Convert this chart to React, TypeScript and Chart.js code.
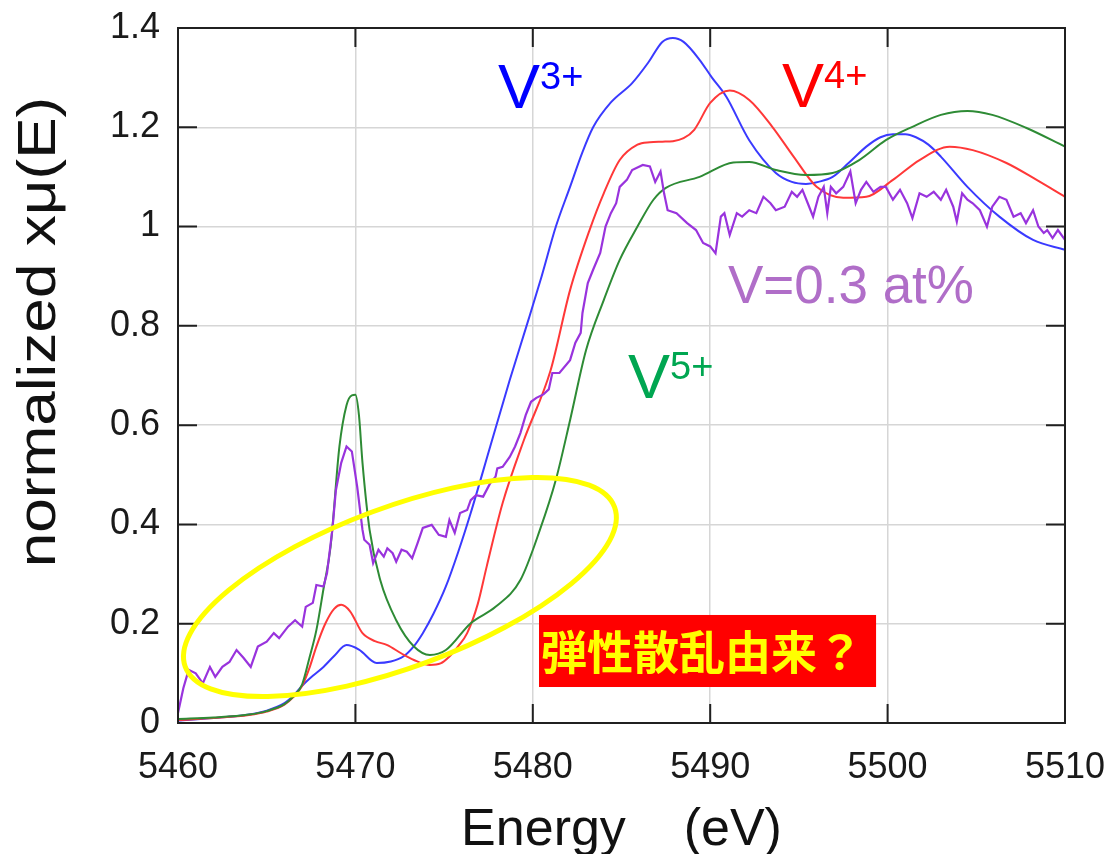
import { useEffect, useRef } from "react";
import { Chart, registerables } from "chart.js";

Chart.register(...registerables);

// ---- spectra: energy (eV) and normalized absorption ----
const energyV3 = [5460, 5462, 5464, 5465, 5466, 5466.5, 5467, 5467.6, 5468.2, 5468.8, 5469.5, 5470.2, 5471.2, 5472.0, 5472.7, 5473.3, 5473.8, 5474.4, 5475.1, 5475.8, 5476.5, 5477.6, 5478.7, 5479.7, 5480.5, 5481.3, 5482.1, 5482.8, 5483.4, 5484.4, 5485.6, 5486.5, 5487.3, 5487.9, 5488.5, 5489.4, 5490.1, 5490.9, 5492.2, 5493.7, 5494.6, 5495.4, 5496.1, 5496.9, 5497.8, 5498.8, 5499.6, 5500.3, 5501.0, 5501.6, 5502.3, 5503.0, 5504.5, 5506.3, 5508.2, 5510];
const muV3 = [0.005, 0.01, 0.017, 0.025, 0.04, 0.055, 0.075, 0.095, 0.113, 0.135, 0.157, 0.148, 0.121, 0.124, 0.134, 0.155, 0.181, 0.22, 0.275, 0.345, 0.423, 0.557, 0.691, 0.806, 0.9, 1.0, 1.08, 1.15, 1.2, 1.25, 1.289, 1.33, 1.372, 1.38, 1.372, 1.336, 1.3, 1.262, 1.174, 1.108, 1.09, 1.086, 1.09, 1.1, 1.128, 1.161, 1.18, 1.186, 1.186, 1.18, 1.165, 1.141, 1.08, 1.02, 0.973, 0.953];

const energyV4 = [5460, 5462, 5464, 5465, 5466, 5466.5, 5467, 5467.4, 5467.8, 5468.3, 5468.8, 5469.2, 5469.7, 5470.4, 5471.1, 5471.8, 5472.6, 5473.3, 5474.2, 5474.8, 5475.3, 5475.8, 5476.3, 5476.9, 5477.4, 5478.3, 5479.5, 5481.0, 5482.1, 5483.2, 5484.0, 5484.9, 5485.9, 5486.6, 5487.3, 5487.9, 5488.5, 5489.1, 5490.0, 5491.1, 5492.2, 5493.5, 5494.7, 5496.0, 5497.5, 5498.8, 5500.3, 5501.8, 5503.5, 5504.8, 5506.7, 5508.4, 5510];
const muV4 = [0.006, 0.01, 0.016, 0.023, 0.037, 0.052, 0.075, 0.11, 0.154, 0.2, 0.23, 0.238, 0.225, 0.181, 0.165, 0.157, 0.14, 0.127, 0.117, 0.12, 0.134, 0.155, 0.181, 0.24, 0.315, 0.443, 0.57, 0.71, 0.872, 0.993, 1.067, 1.134, 1.165, 1.17, 1.171, 1.172, 1.178, 1.195, 1.249, 1.274, 1.255, 1.201, 1.141, 1.08, 1.058, 1.06, 1.094, 1.134, 1.161, 1.154, 1.128, 1.094, 1.06];

const energyV5 = [5460, 5462, 5464, 5465, 5466, 5466.5, 5467, 5467.4, 5467.8, 5468.2, 5468.6, 5469.1, 5469.5, 5469.8, 5470.0, 5470.2, 5470.4, 5470.8, 5471.4, 5472.3, 5473.3, 5474.2, 5475.1, 5476.5, 5477.9, 5479.3, 5480.4, 5481.3, 5482.1, 5483.0, 5484.0, 5484.9, 5485.9, 5486.8, 5487.5, 5489.4, 5491.3, 5492.2, 5493.7, 5495.4, 5496.9, 5498.4, 5499.9, 5501.4, 5503.0, 5504.5, 5505.9, 5507.8, 5510];
const muV5 = [0.008, 0.011, 0.017, 0.024, 0.038, 0.053, 0.078, 0.13, 0.187, 0.27, 0.355, 0.557, 0.64, 0.66, 0.661, 0.62, 0.524, 0.389, 0.288, 0.207, 0.154, 0.137, 0.147, 0.201, 0.234, 0.288, 0.389, 0.49, 0.61, 0.751, 0.852, 0.933, 1.0, 1.054, 1.078, 1.1, 1.129, 1.13, 1.114, 1.104, 1.108, 1.134, 1.174, 1.201, 1.225, 1.233, 1.225, 1.199, 1.161];

const energySample = [5460.0, 5460.3, 5460.6, 5461.0, 5461.4, 5461.8, 5462.1, 5462.5, 5462.9, 5463.3, 5463.7, 5464.1, 5464.5, 5465.0, 5465.4, 5465.7, 5466.2, 5466.6, 5467.0, 5467.2, 5467.6, 5467.8, 5468.2, 5468.4, 5468.7, 5468.9, 5469.2, 5469.5, 5469.8, 5470.1, 5470.4, 5470.5, 5470.8, 5471.0, 5471.3, 5471.6, 5471.8, 5472.1, 5472.3, 5472.6, 5472.9, 5473.2, 5473.5, 5473.8, 5474.3, 5474.7, 5475.1, 5475.3, 5475.6, 5475.9, 5476.3, 5476.5, 5476.8, 5477.2, 5477.6, 5477.9, 5478.0, 5478.3, 5478.7, 5479.0, 5479.3, 5479.6, 5479.9, 5480.2, 5480.6, 5480.9, 5481.1, 5481.5, 5482.1, 5482.4, 5482.7, 5482.8, 5483.1, 5483.4, 5483.8, 5484.1, 5484.4, 5484.7, 5484.9, 5485.3, 5485.6, 5486.2, 5486.6, 5486.9, 5487.2, 5487.4, 5487.6, 5488.1, 5488.7, 5489.2, 5489.6, 5490.0, 5490.3, 5490.6, 5490.8, 5491.1, 5491.5, 5491.8, 5492.2, 5492.6, 5493.0, 5493.4, 5493.7, 5494.2, 5494.6, 5494.9, 5495.2, 5495.5, 5495.8, 5496.1, 5496.4, 5496.6, 5496.8, 5497.1, 5497.5, 5497.9, 5498.2, 5498.5, 5498.8, 5499.2, 5499.6, 5499.9, 5500.3, 5500.7, 5501.1, 5501.4, 5501.8, 5502.2, 5502.6, 5503.0, 5503.3, 5503.7, 5503.9, 5504.2, 5504.5, 5504.8, 5505.2, 5505.6, 5505.9, 5506.3, 5506.7, 5507.1, 5507.5, 5507.8, 5508.2, 5508.5, 5508.8, 5509.0, 5509.3, 5509.6, 5510.0];
const muSample = [0.02, 0.07, 0.107, 0.1, 0.08, 0.113, 0.093, 0.113, 0.123, 0.147, 0.131, 0.113, 0.154, 0.164, 0.181, 0.171, 0.194, 0.207, 0.194, 0.234, 0.242, 0.278, 0.275, 0.302, 0.389, 0.469, 0.524, 0.557, 0.547, 0.476, 0.389, 0.369, 0.359, 0.322, 0.349, 0.335, 0.352, 0.342, 0.325, 0.349, 0.345, 0.332, 0.362, 0.393, 0.399, 0.379, 0.375, 0.409, 0.383, 0.423, 0.429, 0.449, 0.459, 0.456, 0.483, 0.496, 0.513, 0.516, 0.536, 0.557, 0.584, 0.62, 0.647, 0.655, 0.662, 0.672, 0.705, 0.705, 0.731, 0.766, 0.786, 0.826, 0.886, 0.913, 0.947, 1.0, 1.027, 1.047, 1.08, 1.094, 1.114, 1.124, 1.121, 1.09, 1.111, 1.067, 1.033, 1.027, 1.007, 0.993, 0.967, 0.96, 0.946, 1.02, 1.027, 0.983, 1.027, 1.02, 1.033, 1.027, 1.06, 1.047, 1.033, 1.04, 1.07, 1.06, 1.074, 1.047, 1.02, 1.06, 1.08, 1.027, 1.08, 1.067, 1.08, 1.111, 1.047, 1.074, 1.09, 1.07, 1.08, 1.08, 1.054, 1.074, 1.047, 1.017, 1.067, 1.06, 1.07, 1.054, 1.074, 1.04, 1.01, 1.067, 1.054, 1.047, 1.033, 1.0, 1.04, 1.06, 1.054, 1.02, 1.027, 1.007, 1.033, 1.0, 0.987, 0.993, 0.977, 0.993, 0.973];

// ---- axes ----
const xTicks = [5460, 5470, 5480, 5490, 5500, 5510];
const yTicks = [0, 0.2, 0.4, 0.6, 0.8, 1.0, 1.2, 1.4];

const AXIS_FONT = "'Liberation Sans', Arial, sans-serif";
const CJK_FONT = "'Noto Sans CJK JP', 'Noto Sans CJK SC', sans-serif";

const toPoints = (xs: number[], ys: number[]) => xs.map((x, i) => ({ x, y: ys[i] }));

// white page behind the plot
const background = {
  id: "background",
  beforeDraw(chart: any) {
    const { ctx } = chart;
    ctx.save();
    ctx.fillStyle = "#ffffff";
    ctx.fillRect(0, 0, chart.width, chart.height);
    ctx.restore();
  },
};

// closed frame with inward tick marks on all four sides
const frame = {
  id: "frame",
  afterDatasetsDraw(chart: any) {
    const { ctx, chartArea } = chart;
    const { left, right, top, bottom } = chartArea;
    const xs = chart.scales.x;
    const ys = chart.scales.y;
    const len = 19;
    ctx.save();
    ctx.strokeStyle = "#202020";
    ctx.lineWidth = 2;
    ctx.beginPath();
    xTicks.forEach((v) => {
      const px = xs.getPixelForValue(v);
      ctx.moveTo(px, bottom);
      ctx.lineTo(px, bottom - len);
      ctx.moveTo(px, top);
      ctx.lineTo(px, top + len);
    });
    yTicks.forEach((v) => {
      const py = ys.getPixelForValue(v);
      ctx.moveTo(left, py);
      ctx.lineTo(left + len, py);
      ctx.moveTo(right, py);
      ctx.lineTo(right - len, py);
    });
    ctx.stroke();
    ctx.strokeRect(left, top, right - left, bottom - top);
    ctx.restore();
  },
};

// axis titles, oxidation-state labels and the highlighted pre-edge region
const notes = {
  id: "notes",
  afterDraw(chart: any) {
    const { ctx, chartArea } = chart;
    const xs = chart.scales.x;
    const ys = chart.scales.y;
    const px = (e: number) => xs.getPixelForValue(e);
    const py = (v: number) => ys.getPixelForValue(v);
    ctx.save();

    // axis titles
    ctx.fillStyle = "#111111";
    ctx.font = `52px ${AXIS_FONT}`;
    ctx.textAlign = "center";
    ctx.textBaseline = "alphabetic";
    ctx.fillText("Energy    (eV)", (chartArea.left + chartArea.right) / 2, chartArea.bottom + 122);

    ctx.save();
    ctx.translate(40, 332);
    ctx.rotate(-Math.PI / 2);
    ctx.scale(1.15, 1);
    ctx.font = `54px ${AXIS_FONT}`;
    ctx.textBaseline = "middle";
    ctx.fillText("normalized xμ(E)", 0, 0);
    ctx.restore();

    // ion labels with superscript charges
    const ion = (e: number, v: number, base: string, sup: string, color: string) => {
      const x = px(e);
      const y = py(v);
      ctx.fillStyle = color;
      ctx.textAlign = "left";
      ctx.textBaseline = "alphabetic";
      ctx.font = `63px ${AXIS_FONT}`;
      ctx.fillText(base, x, y);
      const w = ctx.measureText(base).width;
      ctx.font = `38px ${AXIS_FONT}`;
      ctx.fillText(sup, x + w, y - 19);
    };
    ion(5478.04, 1.239, "V", "3+", "#0000ff");
    ion(5494.05, 1.241, "V", "4+", "#ff0000");
    ion(5485.37, 0.655, "V", "5+", "#00a651");

    ctx.fillStyle = "#b06ec8";
    ctx.font = `53px ${AXIS_FONT}`;
    ctx.textAlign = "left";
    ctx.fillText("V=0.3 at%", px(5491.0), py(0.846));

    // pre-edge region outline
    ctx.strokeStyle = "#ffff00";
    ctx.lineWidth = 5;
    ctx.beginPath();
    ctx.ellipse(px(5472.51), py(0.274), 229, 80, (-20.4 * Math.PI) / 180, 0, Math.PI * 2);
    ctx.stroke();

    // callout box
    const bx0 = px(5480.35);
    const bx1 = px(5499.35);
    const by0 = py(0.2176);
    const by1 = py(0.0725);
    ctx.fillStyle = "#ff0000";
    ctx.fillRect(bx0, by0, bx1 - bx0, by1 - by0);
    ctx.fillStyle = "#ffff00";
    ctx.font = `bold 46px ${CJK_FONT}`;
    ctx.textAlign = "left";
    ctx.textBaseline = "middle";
    ctx.fillText("弾性散乱由来？", bx0 + 2, (by0 + by1) / 2 + 1);

    ctx.restore();
  },
};

export default function App() {
  const canvasRef = useRef<HTMLCanvasElement | null>(null);

  useEffect(() => {
    document.body.style.margin = "0";
    const canvas = canvasRef.current;
    if (!canvas) return;

    const line = (label: string, xs: number[], ys: number[], color: string, smooth: boolean, width: number) => ({
      label,
      data: toPoints(xs, ys),
      borderColor: color,
      backgroundColor: color,
      borderWidth: width,
      pointRadius: 0,
      fill: false,
      cubicInterpolationMode: smooth ? ("monotone" as const) : ("default" as const),
      tension: 0,
    });

    const chart = new Chart(canvas, {
      type: "line",
      data: {
        datasets: [
          line("V=0.3 at%", energySample, muSample, "#9933dd", false, 2.2),
          line("V5+", energyV5, muV5, "#2e8b35", true, 2),
          line("V4+", energyV4, muV4, "#ff3838", true, 2),
          line("V3+", energyV3, muV3, "#3a3aff", true, 2),
        ],
      },
      options: {
        animation: false,
        responsive: true,
        maintainAspectRatio: false,
        layout: { padding: { top: 28, right: 50, left: 0, bottom: 0 } },
        plugins: {
          legend: { display: false },
          tooltip: { enabled: false },
        },
        scales: {
          x: {
            type: "linear",
            min: 5460,
            max: 5510,
            afterFit(scale: any) {
              scale.height = 131;
              scale.paddingLeft = 0;
              scale.paddingRight = 0;
            },
            afterBuildTicks(scale: any) {
              scale.ticks = xTicks.map((value) => ({ value }));
            },
            ticks: {
              font: { family: AXIS_FONT, size: 36 },
              color: "#1a1a1a",
              padding: 23,
              maxRotation: 0,
              autoSkip: false,
              callback: (v: any) => String(v),
            },
            grid: { color: "#d6d6d6", lineWidth: 1.5, drawTicks: false },
            border: { display: false },
          },
          y: {
            type: "linear",
            min: 0,
            max: 1.4,
            afterFit(scale: any) {
              scale.width = 178;
              scale.paddingTop = 0;
              scale.paddingBottom = 0;
            },
            afterBuildTicks(scale: any) {
              scale.ticks = yTicks.map((value) => ({ value }));
            },
            ticks: {
              font: { family: AXIS_FONT, size: 36 },
              color: "#1a1a1a",
              padding: 18,
              autoSkip: false,
              callback: (v: any) => String(Number(Number(v).toFixed(1))),
            },
            grid: { color: "#d6d6d6", lineWidth: 1.5, drawTicks: false },
            border: { display: false },
          },
        },
      },
      plugins: [background, frame, notes],
    });

    return () => chart.destroy();
  }, []);

  return (
    <div style={{ position: "relative", width: 1115, height: 854 }}>
      <canvas ref={canvasRef} />
    </div>
  );
}
